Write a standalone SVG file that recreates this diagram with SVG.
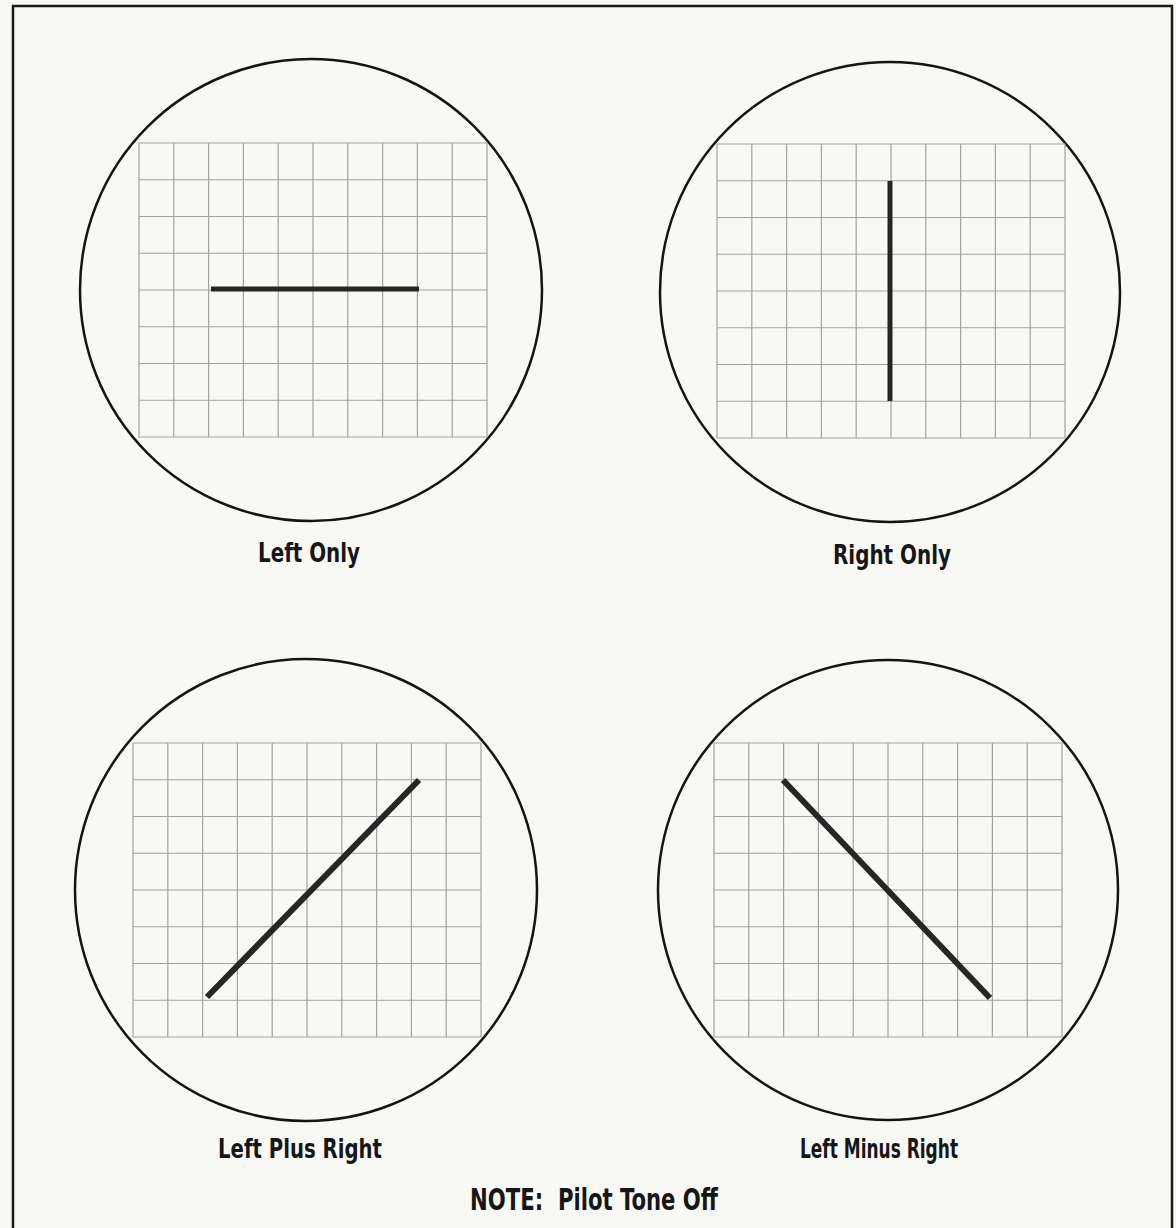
<svg xmlns="http://www.w3.org/2000/svg" xmlns:xlink="http://www.w3.org/1999/xlink" width="1176" height="1228" viewBox="0 0 1176 1228">
<style>
.bg{fill:#f8f8f5}
.frame{fill:none;stroke:#1a1a1a;stroke-width:2.5}
.scope{fill:none;stroke:#141414;stroke-width:2.5}
.grid{fill:none;stroke:#a2a2a2;stroke-width:1.2}
.trace{fill:none;stroke:#262626;stroke-width:5;stroke-linecap:butt}
.lbl{font-family:"Liberation Sans Narrow","DejaVu Sans Condensed","Liberation Sans",sans-serif;font-weight:bold;font-size:26px;fill:#161616;text-anchor:middle}
.note{font-size:31px}
</style>
<defs>
<path id="grid" class="grid" d="M0 0H348V294H0Z M34.8 0V294 M69.6 0V294 M104.4 0V294 M139.2 0V294 M174 0V294 M208.8 0V294 M243.6 0V294 M278.4 0V294 M313.2 0V294 M0 36.75H348 M0 73.5H348 M0 110.25H348 M0 147H348 M0 183.75H348 M0 220.5H348 M0 257.25H348"/>
</defs>
<rect class="bg" x="0" y="0" width="1176" height="1228"/>
<rect class="frame" x="13" y="6" width="1159" height="1240"/>

<g id="left-only">
<circle class="scope" cx="311" cy="290" r="231"/>
<use xlink:href="#grid" x="139" y="143"/>
<path class="trace" d="M211 289H419"/>
<text class="lbl" x="309" y="562" textLength="102" lengthAdjust="spacingAndGlyphs">Left Only</text>
</g>

<g id="right-only">
<circle class="scope" cx="890" cy="292" r="230"/>
<use xlink:href="#grid" x="717" y="144"/>
<path class="trace" d="M890 181V401"/>
<text class="lbl" x="892" y="564" textLength="118" lengthAdjust="spacingAndGlyphs">Right Only</text>
</g>

<g id="left-plus-right">
<circle class="scope" cx="306" cy="890" r="231"/>
<use xlink:href="#grid" x="133" y="743"/>
<path class="trace" d="M207 997L419 780" style="stroke-width:6"/>
<text class="lbl" x="300" y="1158" textLength="164" lengthAdjust="spacingAndGlyphs">Left Plus Right</text>
</g>

<g id="left-minus-right">
<circle class="scope" cx="888" cy="890" r="230"/>
<use xlink:href="#grid" x="714" y="743"/>
<path class="trace" d="M783 780L990 998" style="stroke-width:6"/>
<text class="lbl" x="879" y="1158" textLength="158" lengthAdjust="spacingAndGlyphs">Left Minus Right</text>
</g>

<g id="note">
<text class="lbl note" x="594" y="1210" textLength="248" lengthAdjust="spacingAndGlyphs">NOTE:&#160; Pilot Tone Off</text>
</g>
</svg>
